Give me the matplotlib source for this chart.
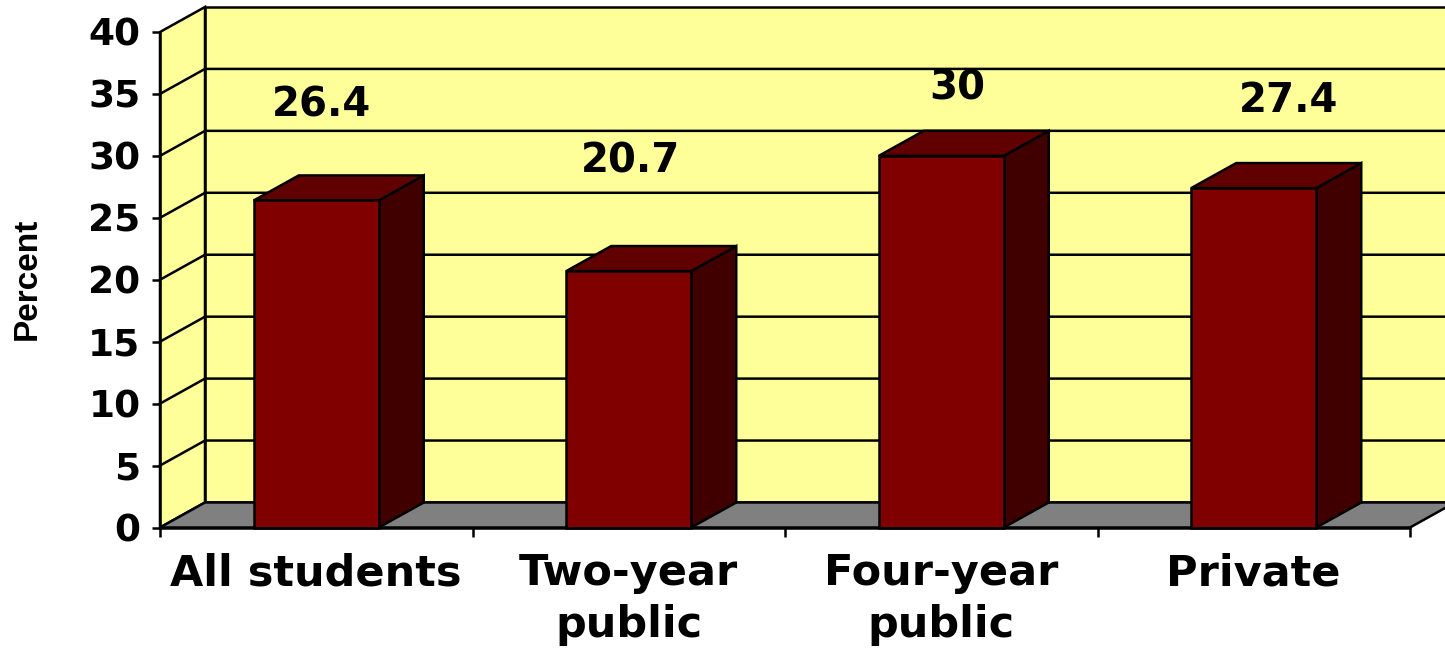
import matplotlib
matplotlib.use("Agg")
import matplotlib.pyplot as plt
from matplotlib.patches import Polygon

# ---- data ----
categories = ["All students", "Two-year\npublic", "Four-year\npublic", "Private"]
values = [26.4, 20.7, 30, 27.4]
value_labels = ["26.4", "20.7", "30", "27.4"]
y_ticks = [0, 5, 10, 15, 20, 25, 30, 35, 40]
y_label = "Percent"

# ---- layout / style ----
label_nudge_x = [0.018, 0.007, 0.050, 0.113]   # category units
label_nudge_y = [7.70, 8.84, 5.47, 7.02]       # value units above bar
DX, DY = 0.144, 2.02       # 3D depth offset (category units, value units)
BAR_W = 0.4
YMAX = 40
WALL = "#FFFF99"
FLOOR = "#808080"
FRONT = "#800000"
TOP = "#600000"
SIDE = "#400000"
LW = 1.8
FONT = "DejaVu Sans"

plt.rcParams["font.family"] = [FONT]
plt.rcParams["font.weight"] = "bold"

fig = plt.figure(figsize=(14.45, 6.49), dpi=100)
ax = fig.add_axes([160 / 1445, 121.5 / 649, 1250 / 1445, 495.5 / 649])
n = len(categories)
x0, x1 = -0.5, n - 0.5
ax.set_xlim(x0, x1)
ax.set_ylim(0, YMAX)
ax.patch.set_visible(False)

def poly(pts, fc, z):
    p = Polygon(pts, closed=True, facecolor=fc, edgecolor="black",
                linewidth=LW, clip_on=False, zorder=z, joinstyle="miter")
    ax.add_patch(p)

# back wall (extends beyond figure at right)
poly([(x0 + DX, DY), (x1 + DX, DY), (x1 + DX, YMAX + DY), (x0 + DX, YMAX + DY)], WALL, 1)
# left wall
poly([(x0, 0), (x0 + DX, DY), (x0 + DX, YMAX + DY), (x0, YMAX)], WALL, 1)
# gridlines on walls
for t in y_ticks[1:-1]:
    ax.plot([x0, x0 + DX, x1 + DX], [t, t + DY, t + DY], color="black",
            lw=LW, clip_on=False, zorder=2)
# floor
poly([(x0, 0), (x1, 0), (x1 + DX, DY), (x0 + DX, DY)], FLOOR, 3)

# bars
xs = list(range(n))
for i, v in zip(xs, values):
    l, r = i - BAR_W / 2, i + BAR_W / 2
    poly([(r, 0), (r + DX, DY), (r + DX, v + DY), (r, v)], SIDE, 4)
    poly([(l, v), (r, v), (r + DX, v + DY), (l + DX, v + DY)], TOP, 4)
ax.bar(xs, values, width=BAR_W, color=FRONT, edgecolor="black",
       linewidth=LW, zorder=5, clip_on=False)

# value labels
for i, (v, s) in enumerate(zip(values, value_labels)):
    ax.text(i + label_nudge_x[i], v + label_nudge_y[i], s, ha="center",
            va="center", fontsize=29, fontweight="bold", zorder=6)

# axes styling
for sp in ["top", "right"]:
    ax.spines[sp].set_visible(False)
ax.spines["left"].set_linewidth(LW)
ax.spines["bottom"].set_linewidth(LW)
ax.spines["left"].set_zorder(7)
ax.spines["bottom"].set_zorder(7)

ax.set_yticks(y_ticks)
ax.set_yticklabels([str(t) for t in y_ticks])
ax.tick_params(axis="y", direction="out", length=6, width=LW, pad=8,
               labelsize=27)
ax.set_xticks([x0 + k for k in range(n + 1)])
ax.set_xticklabels([])
ax.tick_params(axis="x", which="major", direction="out", length=6.5, width=LW)
ax.set_xticks(xs, minor=True)
ax.set_xticklabels(categories, minor=True, fontsize=31, fontweight="bold",
                   linespacing=1.3)
ax.tick_params(axis="x", which="minor", length=0, pad=18)
for lab in ax.get_yticklabels() + ax.get_xticklabels(minor=True):
    lab.set_fontweight("bold")

fig.text(27 / 1445, 1 - 279 / 649, y_label, rotation=90, ha="center",
         va="center", fontsize=24, fontweight="bold",
         family="Liberation Sans")

fig.savefig("out.png", dpi=100)
